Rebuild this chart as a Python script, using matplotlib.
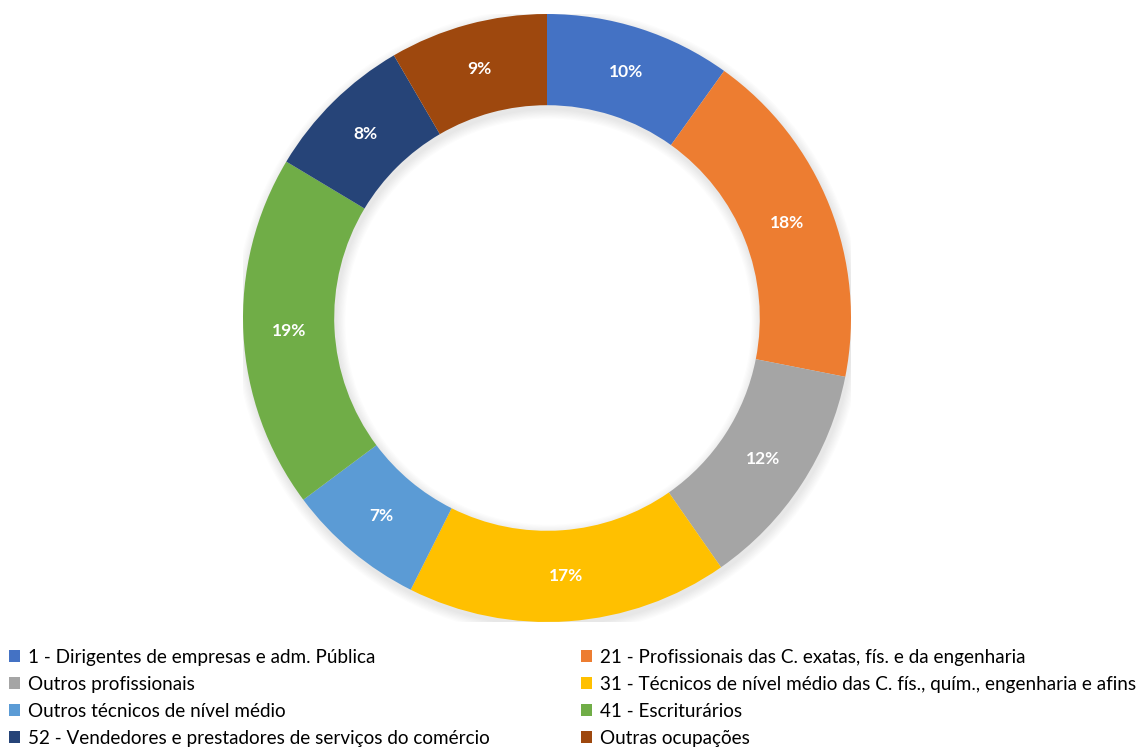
import math
import matplotlib.pyplot as plt
from matplotlib.patches import Patch, Wedge

categorias = [
    "1 - Dirigentes de empresas e adm. Pública",
    "21 - Profissionais das C. exatas, fís. e da engenharia",
    "Outros profissionais",
    "31 - Técnicos de nível médio das C. fís., quím., engenharia e afins",
    "Outros técnicos de nível médio",
    "41 - Escriturários",
    "52 - Vendedores e prestadores de serviços do comércio",
    "Outras ocupações",
]
# fatias medidas no gráfico, e os rótulos que ele mostra
fatias = [9.9, 18.2, 12.2, 17.1, 7.4, 18.8, 8.0, 8.4]
rotulos = ["10%", "18%", "12%", "17%", "7%", "19%", "8%", "9%"]
cores = ["#4472C4", "#ED7D31", "#A5A5A5", "#FFC000",
         "#5B9BD5", "#70AD47", "#264478", "#9E480E"]

plt.rcParams['font.family'] = ['Lato', 'DejaVu Sans']

fig = plt.figure(figsize=(11.36, 7.51), dpi=100)
W, H = 1136, 751
cx, cy, R = 547, 318, 304
ax = fig.add_axes([(cx - R) / W, (H - cy - R) / H, 2 * R / W, 2 * R / H])

# sombra suave (aproximada)
for i in range(8):
    d = 0.004 * (i + 1)
    ax.add_patch(Wedge((0.005, -0.012), 1 + d, 0, 360, width=0.30 + 2 * d,
                       color="black", alpha=0.012, lw=0, zorder=0))

wedges, textos = ax.pie(
    fatias, colors=cores, startangle=90, counterclock=False,
    radius=1, wedgeprops=dict(width=0.30, edgecolor='none'))
for w, r in zip(wedges, rotulos):
    w.set_zorder(2)
    ang = math.radians((w.theta1 + w.theta2) / 2)
    ax.text(0.85 * math.cos(ang), 0.85 * math.sin(ang), r, color='white',
            fontsize=12.5, fontweight='bold', ha='center', va='center', zorder=3)

ax.set_xlim(-1, 1)
ax.set_ylim(-1, 1)
ax.axis('off')

handles = [Patch(facecolor=c, edgecolor='none') for c in cores]
kw = dict(frameon=False, fontsize=13.6, handlelength=0.6, handleheight=0.6,
          handletextpad=0.4, labelspacing=0.53, borderaxespad=0, borderpad=0)
fig.legend([handles[i] for i in (0, 2, 4, 6)], [categorias[i] for i in (0, 2, 4, 6)],
           loc='upper left', bbox_to_anchor=(9 / W, 1 - 649 / H), **kw)
fig.legend([handles[i] for i in (1, 3, 5, 7)], [categorias[i] for i in (1, 3, 5, 7)],
           loc='upper left', bbox_to_anchor=(581 / W, 1 - 649 / H), **kw)

fig.savefig('out.png', dpi=100)
